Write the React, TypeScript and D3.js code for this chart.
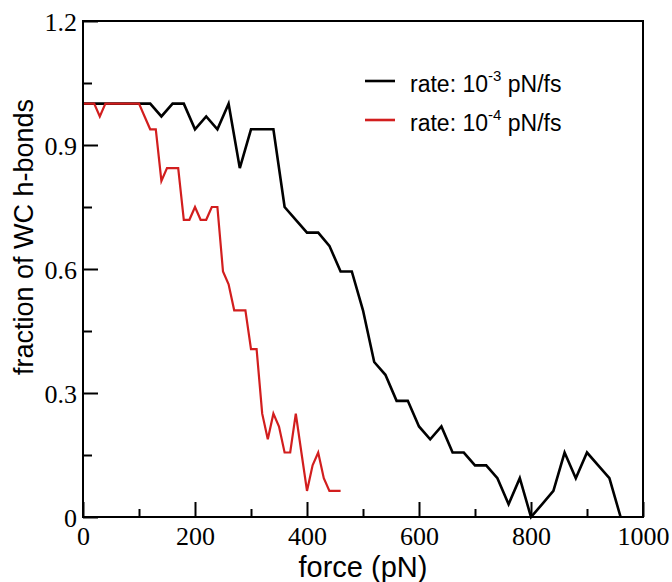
import React, { useEffect, useRef } from 'react'
import * as d3 from 'd3'

// rate 1e-3 pN/fs
const forceFast = [
  0, 20, 40, 60, 80, 100, 120, 140, 160, 180, 200, 220, 240, 260, 280, 300, 320, 340, 360, 380,
  400, 420, 440, 460, 480, 500, 520, 540, 560, 580, 600, 620, 640, 660, 680, 700, 720, 740, 760,
  780, 800, 820, 840, 860, 880, 900, 920, 940, 960,
]
const bondsFast = [
  1, 1, 1, 1, 1, 1, 1, 0.969, 1, 1, 0.938, 0.969, 0.938, 1, 0.844, 0.938, 0.938, 0.938, 0.75,
  0.719, 0.688, 0.688, 0.656, 0.594, 0.594, 0.5, 0.375, 0.344, 0.281, 0.281, 0.219, 0.188, 0.219,
  0.156, 0.156, 0.125, 0.125, 0.094, 0.031, 0.094, 0, 0.031, 0.063, 0.156, 0.094, 0.156, 0.125,
  0.094, 0,
]

// rate 1e-4 pN/fs
const forceSlow = [
  0, 10, 20, 30, 40, 50, 60, 70, 80, 90, 100, 110, 120, 130, 140, 150, 160, 170, 180, 190, 200,
  210, 220, 230, 240, 250, 260, 270, 280, 290, 300, 310, 320, 330, 340, 350, 360, 370, 380, 390,
  400, 410, 420, 430, 440, 450, 460,
]
const bondsSlow = [
  1, 1, 1, 0.969, 1, 1, 1, 1, 1, 1, 1, 0.969, 0.938, 0.938, 0.813, 0.844, 0.844, 0.844, 0.719,
  0.719, 0.75, 0.719, 0.719, 0.75, 0.75, 0.594, 0.563, 0.5, 0.5, 0.5, 0.406, 0.406, 0.25, 0.188,
  0.25, 0.219, 0.156, 0.156, 0.25, 0.156, 0.063, 0.125, 0.156, 0.094, 0.063, 0.063, 0.063,
]

const xMajor = [0, 200, 400, 600, 800, 1000]
const xMinor = [100, 300, 500, 700, 900]
const yMajor = [0, 0.3, 0.6, 0.9, 1.2]
const yMinor = [0.15, 0.45, 0.75, 1.05]

const series = [
  { label: '-3', x: forceFast, y: bondsFast, color: '#000000', width: 2.6 },
  { label: '-4', x: forceSlow, y: bondsSlow, color: '#d21e1e', width: 2.2 },
]

const W = 672
const H = 582
const left = 83
const right = 643
const top = 21
const bottom = 517

export default function App() {
  const ref = useRef<SVGSVGElement | null>(null)

  useEffect(() => {
    const svg = d3.select(ref.current)
    svg.selectAll('*').remove()

    const x = d3.scaleLinear().domain([0, 1000]).range([left, right])
    const y = d3.scaleLinear().domain([0, 1.2]).range([bottom, top])
    const fmtY = (d: number) => (d === 0 ? '0' : d3.format('.1f')(d))
    const fmtX = (d: number) => d3.format('d')(d)
    const serif = '"Liberation Serif", "Times New Roman", serif'
    const sans = '"Liberation Sans", Arial, sans-serif'

    // ticks, pointing into the plot
    const gx = svg.append('g').attr('transform', `translate(0,${bottom})`)
    gx.call(d3.axisBottom(x).tickValues(xMajor).tickSize(-15).tickFormat(fmtX as any))
    const gxm = svg.append('g').attr('transform', `translate(0,${bottom})`)
    gxm.call(d3.axisBottom(x).tickValues(xMinor).tickSize(-8).tickFormat(() => ''))
    const gy = svg.append('g').attr('transform', `translate(${left},0)`)
    gy.call(d3.axisLeft(y).tickValues(yMajor).tickSize(-15).tickFormat(fmtY as any))
    const gym = svg.append('g').attr('transform', `translate(${left},0)`)
    gym.call(d3.axisLeft(y).tickValues(yMinor).tickSize(-9).tickFormat(() => ''))

    svg.selectAll('.domain').remove()
    svg.selectAll('.tick line').attr('stroke', '#000').attr('stroke-width', 2)
    gx.selectAll('.tick text')
      .attr('y', 28)
      .attr('dy', 0)
      .attr('font-family', serif)
      .attr('font-size', 26)
      .attr('fill', '#000')
    gy.selectAll('.tick text')
      .attr('x', -6)
      .attr('dy', '0.35em')
      .attr('font-family', serif)
      .attr('font-size', 26)
      .attr('fill', '#000')

    // data lines
    series.forEach(s => {
      const pts = s.x.map((v, i) => [v, s.y[i]] as [number, number])
      const line = d3
        .line<[number, number]>()
        .x(d => x(d[0]))
        .y(d => y(d[1]))
      svg
        .append('path')
        .attr('d', line(pts))
        .attr('fill', 'none')
        .attr('stroke', s.color)
        .attr('stroke-width', s.width)
        .attr('stroke-linejoin', 'miter')
    })

    // frame
    svg
      .append('rect')
      .attr('x', left)
      .attr('y', top)
      .attr('width', right - left)
      .attr('height', bottom - top)
      .attr('fill', 'none')
      .attr('stroke', '#000')
      .attr('stroke-width', 2)

    // legend
    series.forEach((s, i) => {
      const ly = 81 + i * 39
      svg
        .append('line')
        .attr('x1', 365)
        .attr('x2', 395)
        .attr('y1', ly)
        .attr('y2', ly)
        .attr('stroke', s.color)
        .attr('stroke-width', 2.6)
      const t = svg
        .append('text')
        .attr('x', 410)
        .attr('y', ly + 11)
        .attr('font-family', sans)
        .attr('font-size', 23)
        .attr('fill', '#000')
      t.append('tspan').text('rate: 10')
      t.append('tspan').attr('dy', -11).attr('font-size', 15).text(s.label)
      t.append('tspan').attr('dy', 11).text(' pN/fs')
    })

    // axis titles
    svg
      .append('text')
      .attr('x', (left + right) / 2)
      .attr('y', 577)
      .attr('text-anchor', 'middle')
      .attr('font-family', sans)
      .attr('font-size', 29)
      .attr('fill', '#000')
      .text('force (pN)')
    svg
      .append('text')
      .attr('transform', `translate(33,237) rotate(-90)`)
      .attr('text-anchor', 'middle')
      .attr('font-family', sans)
      .attr('font-size', 27)
      .attr('fill', '#000')
      .text('fraction of WC h-bonds')
  }, [])

  return (
    <svg
      ref={ref}
      width={W}
      height={H}
      style={{ position: 'absolute', left: 0, top: 0, background: '#fff' }}
    />
  )
}
